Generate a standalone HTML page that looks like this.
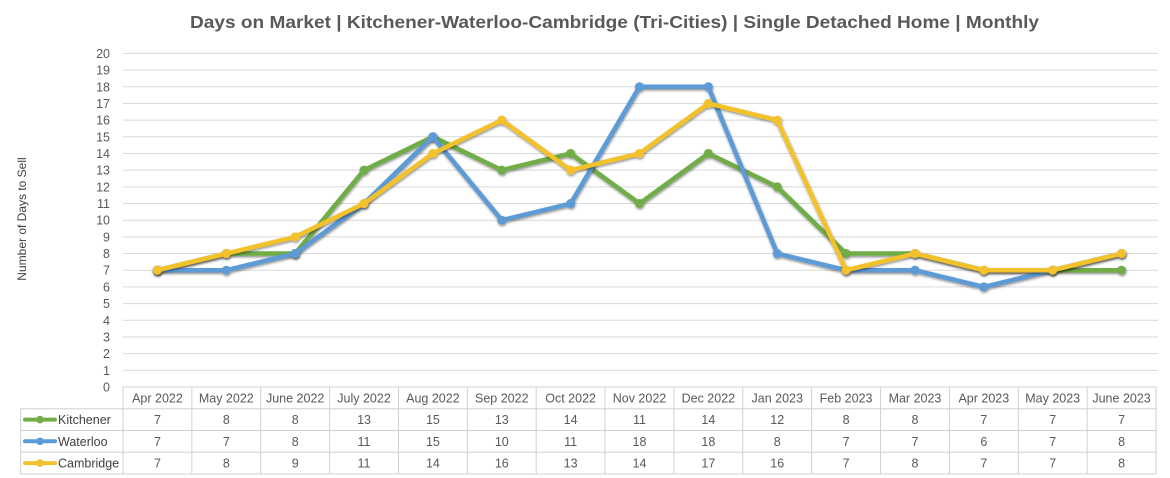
<!DOCTYPE html>
<html><head><meta charset="utf-8"><style>
html,body{margin:0;padding:0;background:#fff;}
svg{display:block;}
text{font-family:"Liberation Sans",Arial,sans-serif;}
</style></head><body>
<svg width="1170" height="478" viewBox="0 0 1170 478" xmlns="http://www.w3.org/2000/svg">
<defs>
<filter id="sh" x="-5%" y="-10%" width="110%" height="130%">
<feDropShadow dx="0.5" dy="1.5" stdDeviation="1.2" flood-color="#000" flood-opacity="0.45"/>
</filter>
</defs>
<rect width="1170" height="478" fill="#fff"/>
<text x="614.5" y="28" text-anchor="middle" font-size="17.5" font-weight="bold" fill="#595959" textLength="849" lengthAdjust="spacingAndGlyphs">Days on Market | Kitchener-Waterloo-Cambridge (Tri-Cities) | Single Detached Home | Monthly</text>

<g stroke="#d9d9d9" stroke-width="1">
<line x1="123" x2="1158" y1="370.32" y2="370.32"/>
<line x1="123" x2="1158" y1="353.64" y2="353.64"/>
<line x1="123" x2="1158" y1="336.96" y2="336.96"/>
<line x1="123" x2="1158" y1="320.28" y2="320.28"/>
<line x1="123" x2="1158" y1="303.6" y2="303.6"/>
<line x1="123" x2="1158" y1="286.92" y2="286.92"/>
<line x1="123" x2="1158" y1="270.24" y2="270.24"/>
<line x1="123" x2="1158" y1="253.56" y2="253.56"/>
<line x1="123" x2="1158" y1="236.88" y2="236.88"/>
<line x1="123" x2="1158" y1="220.2" y2="220.2"/>
<line x1="123" x2="1158" y1="203.52" y2="203.52"/>
<line x1="123" x2="1158" y1="186.84" y2="186.84"/>
<line x1="123" x2="1158" y1="170.16" y2="170.16"/>
<line x1="123" x2="1158" y1="153.48" y2="153.48"/>
<line x1="123" x2="1158" y1="136.8" y2="136.8"/>
<line x1="123" x2="1158" y1="120.12" y2="120.12"/>
<line x1="123" x2="1158" y1="103.44" y2="103.44"/>
<line x1="123" x2="1158" y1="86.76" y2="86.76"/>
<line x1="123" x2="1158" y1="70.08" y2="70.08"/>
<line x1="123" x2="1158" y1="53.4" y2="53.4"/>
</g>

<g font-size="12.5" fill="#595959" text-anchor="end">
<text x="110" y="391.5">0</text>
<text x="110" y="374.8">1</text>
<text x="110" y="358.1">2</text>
<text x="110" y="341.5">3</text>
<text x="110" y="324.8">4</text>
<text x="110" y="308.1">5</text>
<text x="110" y="291.4">6</text>
<text x="110" y="274.7">7</text>
<text x="110" y="258.1">8</text>
<text x="110" y="241.4">9</text>
<text x="110" y="224.7">10</text>
<text x="110" y="208">11</text>
<text x="110" y="191.3">12</text>
<text x="110" y="174.7">13</text>
<text x="110" y="158">14</text>
<text x="110" y="141.3">15</text>
<text x="110" y="124.6">16</text>
<text x="110" y="107.9">17</text>
<text x="110" y="91.3">18</text>
<text x="110" y="74.6">19</text>
<text x="110" y="57.9">20</text>
</g>

<text transform="translate(26,219) rotate(-90)" text-anchor="middle" font-size="12" fill="#404040">Number of Days to Sell</text>

<!-- table -->
<g stroke="#d0d0d0" stroke-width="1" fill="none">
<line x1="123" x2="1156" y1="387" y2="387"/>
<line x1="20.7" x2="1156" y1="408.7" y2="408.7"/>
<line x1="20.7" x2="1156" y1="430.5" y2="430.5"/>
<line x1="20.7" x2="1156" y1="452.2" y2="452.2"/>
<line x1="20.7" x2="1156" y1="474" y2="474"/>
<line x1="20.7" x2="20.7" y1="408.7" y2="474"/>
<line x1="123" x2="123" y1="387" y2="474"/>
<line x1="191.87" x2="191.87" y1="387" y2="474"/>
<line x1="260.73" x2="260.73" y1="387" y2="474"/>
<line x1="329.6" x2="329.6" y1="387" y2="474"/>
<line x1="398.47" x2="398.47" y1="387" y2="474"/>
<line x1="467.33" x2="467.33" y1="387" y2="474"/>
<line x1="536.2" x2="536.2" y1="387" y2="474"/>
<line x1="605.07" x2="605.07" y1="387" y2="474"/>
<line x1="673.93" x2="673.93" y1="387" y2="474"/>
<line x1="742.8" x2="742.8" y1="387" y2="474"/>
<line x1="811.67" x2="811.67" y1="387" y2="474"/>
<line x1="880.53" x2="880.53" y1="387" y2="474"/>
<line x1="949.4" x2="949.4" y1="387" y2="474"/>
<line x1="1018.27" x2="1018.27" y1="387" y2="474"/>
<line x1="1087.13" x2="1087.13" y1="387" y2="474"/>
<line x1="1156" x2="1156" y1="387" y2="474"/>
</g>

<g font-size="12.5" fill="#595959" text-anchor="middle">
<text x="157.43" y="402.3">Apr 2022</text>
<text x="226.3" y="402.3">May 2022</text>
<text x="295.17" y="402.3">June 2022</text>
<text x="364.03" y="402.3">July 2022</text>
<text x="432.9" y="402.3">Aug 2022</text>
<text x="501.77" y="402.3">Sep 2022</text>
<text x="570.63" y="402.3">Oct 2022</text>
<text x="639.5" y="402.3">Nov 2022</text>
<text x="708.37" y="402.3">Dec 2022</text>
<text x="777.23" y="402.3">Jan 2023</text>
<text x="846.1" y="402.3">Feb 2023</text>
<text x="914.97" y="402.3">Mar 2023</text>
<text x="983.83" y="402.3">Apr 2023</text>
<text x="1052.7" y="402.3">May 2023</text>
<text x="1121.57" y="402.3">June 2023</text>
</g>
<g font-size="12.5" fill="#595959" text-anchor="middle">
<text x="157.43" y="424">7</text><text x="226.3" y="424">8</text><text x="295.17" y="424">8</text><text x="364.03" y="424">13</text><text x="432.9" y="424">15</text><text x="501.77" y="424">13</text><text x="570.63" y="424">14</text><text x="639.5" y="424">11</text><text x="708.37" y="424">14</text><text x="777.23" y="424">12</text><text x="846.1" y="424">8</text><text x="914.97" y="424">8</text><text x="983.83" y="424">7</text><text x="1052.7" y="424">7</text><text x="1121.57" y="424">7</text>
<text x="157.43" y="445.8">7</text><text x="226.3" y="445.8">7</text><text x="295.17" y="445.8">8</text><text x="364.03" y="445.8">11</text><text x="432.9" y="445.8">15</text><text x="501.77" y="445.8">10</text><text x="570.63" y="445.8">11</text><text x="639.5" y="445.8">18</text><text x="708.37" y="445.8">18</text><text x="777.23" y="445.8">8</text><text x="846.1" y="445.8">7</text><text x="914.97" y="445.8">7</text><text x="983.83" y="445.8">6</text><text x="1052.7" y="445.8">7</text><text x="1121.57" y="445.8">8</text>
<text x="157.43" y="467.5">7</text><text x="226.3" y="467.5">8</text><text x="295.17" y="467.5">9</text><text x="364.03" y="467.5">11</text><text x="432.9" y="467.5">14</text><text x="501.77" y="467.5">16</text><text x="570.63" y="467.5">13</text><text x="639.5" y="467.5">14</text><text x="708.37" y="467.5">17</text><text x="777.23" y="467.5">16</text><text x="846.1" y="467.5">7</text><text x="914.97" y="467.5">8</text><text x="983.83" y="467.5">7</text><text x="1052.7" y="467.5">7</text><text x="1121.57" y="467.5">8</text>
</g>

<!-- legend keys -->
<g stroke-width="4" stroke-linecap="round">
<line x1="25" x2="55" y1="419.6" y2="419.6" stroke="#70ad47"/>
<circle cx="40" cy="419.6" r="3.8" fill="#70ad47" stroke="none"/>
<line x1="25" x2="55" y1="441.3" y2="441.3" stroke="#5b9bd5"/>
<circle cx="40" cy="441.3" r="3.8" fill="#5b9bd5" stroke="none"/>
<line x1="25" x2="55" y1="463.1" y2="463.1" stroke="#f3c12b"/>
<circle cx="40" cy="463.1" r="3.8" fill="#f3c12b" stroke="none"/>
</g>
<g font-size="12.5" fill="#404040">
<text x="58" y="424">Kitchener</text>
<text x="58" y="445.8">Waterloo</text>
<text x="58" y="467.5">Cambridge</text>
</g>

<!-- series -->
<g filter="url(#sh)">
<polyline fill="none" stroke="#70ad47" stroke-width="4.5" stroke-linejoin="round" points="157.43,270.24 226.30,253.56 295.17,253.56 364.03,170.16 432.90,136.8 501.77,170.16 570.63,153.48 639.50,203.52 708.37,153.48 777.23,186.84 846.10,253.56 914.97,253.56 983.83,270.24 1052.70,270.24 1121.57,270.24"/>
<g fill="#70ad47">
<circle cx="157.43" cy="270.24" r="4.5"/><circle cx="226.3" cy="253.56" r="4.5"/><circle cx="295.17" cy="253.56" r="4.5"/><circle cx="364.03" cy="170.16" r="4.5"/><circle cx="432.9" cy="136.8" r="4.5"/><circle cx="501.77" cy="170.16" r="4.5"/><circle cx="570.63" cy="153.48" r="4.5"/><circle cx="639.5" cy="203.52" r="4.5"/><circle cx="708.37" cy="153.48" r="4.5"/><circle cx="777.23" cy="186.84" r="4.5"/><circle cx="846.1" cy="253.56" r="4.5"/><circle cx="914.97" cy="253.56" r="4.5"/><circle cx="983.83" cy="270.24" r="4.5"/><circle cx="1052.7" cy="270.24" r="4.5"/><circle cx="1121.57" cy="270.24" r="4.5"/>
</g>
</g>
<g filter="url(#sh)">
<polyline fill="none" stroke="#5b9bd5" stroke-width="4.5" stroke-linejoin="round" points="157.43,270.24 226.30,270.24 295.17,253.56 364.03,203.52 432.90,136.8 501.77,220.2 570.63,203.52 639.50,86.76 708.37,86.76 777.23,253.56 846.10,270.24 914.97,270.24 983.83,286.92 1052.70,270.24 1121.57,253.56"/>
<g fill="#5b9bd5">
<circle cx="157.43" cy="270.24" r="4.5"/><circle cx="226.3" cy="270.24" r="4.5"/><circle cx="295.17" cy="253.56" r="4.5"/><circle cx="364.03" cy="203.52" r="4.5"/><circle cx="432.9" cy="136.8" r="4.5"/><circle cx="501.77" cy="220.2" r="4.5"/><circle cx="570.63" cy="203.52" r="4.5"/><circle cx="639.5" cy="86.76" r="4.5"/><circle cx="708.37" cy="86.76" r="4.5"/><circle cx="777.23" cy="253.56" r="4.5"/><circle cx="846.1" cy="270.24" r="4.5"/><circle cx="914.97" cy="270.24" r="4.5"/><circle cx="983.83" cy="286.92" r="4.5"/><circle cx="1052.7" cy="270.24" r="4.5"/><circle cx="1121.57" cy="253.56" r="4.5"/>
</g>
</g>
<g filter="url(#sh)">
<polyline fill="none" stroke="#f3c12b" stroke-width="4.5" stroke-linejoin="round" points="157.43,270.24 226.30,253.56 295.17,236.88 364.03,203.52 432.90,153.48 501.77,120.12 570.63,170.16 639.50,153.48 708.37,103.44 777.23,120.12 846.10,270.24 914.97,253.56 983.83,270.24 1052.70,270.24 1121.57,253.56"/>
<g fill="#f3c12b">
<circle cx="157.43" cy="270.24" r="4.5"/><circle cx="226.3" cy="253.56" r="4.5"/><circle cx="295.17" cy="236.88" r="4.5"/><circle cx="364.03" cy="203.52" r="4.5"/><circle cx="432.9" cy="153.48" r="4.5"/><circle cx="501.77" cy="120.12" r="4.5"/><circle cx="570.63" cy="170.16" r="4.5"/><circle cx="639.5" cy="153.48" r="4.5"/><circle cx="708.37" cy="103.44" r="4.5"/><circle cx="777.23" cy="120.12" r="4.5"/><circle cx="846.1" cy="270.24" r="4.5"/><circle cx="914.97" cy="253.56" r="4.5"/><circle cx="983.83" cy="270.24" r="4.5"/><circle cx="1052.7" cy="270.24" r="4.5"/><circle cx="1121.57" cy="253.56" r="4.5"/>
</g>
</g>
</svg>
</body></html>
